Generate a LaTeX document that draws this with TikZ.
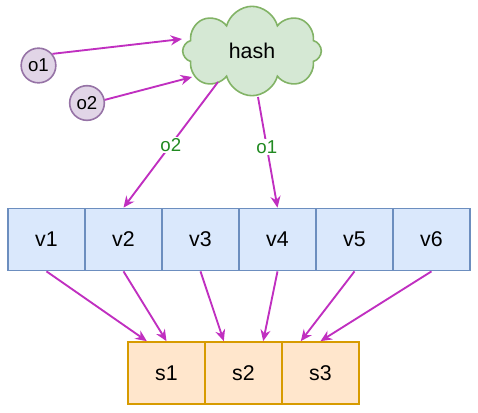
\documentclass[tikz,border=0pt]{standalone}
\usepackage{fontspec}
\setmainfont{Liberation Sans}
\usetikzlibrary{shapes.symbols,arrows.meta,calc}

\definecolor{vfill}{HTML}{DAE8FC}
\definecolor{vline}{HTML}{6C8EBF}
\definecolor{sfill}{HTML}{FFE6CC}
\definecolor{sline}{HTML}{D79B00}
\definecolor{hfill}{HTML}{D5E8D4}
\definecolor{hline}{HTML}{82B366}
\definecolor{ofill}{HTML}{E1D5E7}
\definecolor{oline}{HTML}{9673A6}
\definecolor{arrowc}{HTML}{C02FC0}
\definecolor{labelc}{HTML}{218A21}

\tikzset{
    cell/.style={draw=vline, fill=vfill, line width=1.3pt, minimum width=57.75pt, minimum height=46.5pt, inner sep=0pt, font=\fontsize{16}{19}\selectfont},
    slot/.style={cell, draw=sline, fill=sfill},
    obj/.style={circle, draw=oline, fill=ofill, line width=1.2pt, minimum size=26pt, inner sep=0pt, font=\fontsize{14}{16}\selectfont},
    link/.style={draw=arrowc, line width=1.4pt, -{Stealth[length=8.5pt, width=7.5pt]}},
    tag/.style={fill=white, text=labelc, inner sep=1pt, font=\fontsize{14}{16}\selectfont},
}

\begin{document}
\begin{tikzpicture}[x=0.75pt, y=-0.75pt]
        \useasboundingbox (0, 0) rectangle (478, 412);
        % hash and the two objects
        \node[cloud, cloud puffs=8, aspect=1.6, draw=hline, fill=hfill, line width=1.2pt, minimum width=104pt, minimum height=67pt, font=\fontsize{16}{19}\selectfont] (hash) at (252, 51) {hash};
        \node[obj] (o1) at (38.5, 65.5) {o1};
        \node[obj] (o2) at (87, 103) {o2};
        \coordinate (hin1) at ($(hash.center) + (-70, -12)$);
        \coordinate (hin2) at ($(hash.center) + (-60, 26)$);
        \coordinate (hout2) at ($(hash.center) + (-34, 31)$);
        \coordinate (hout1) at ($(hash.center) + (6, 46)$);
        % virtual nodes
        \node[cell] (v1) at (46.5, 239.5) {v1};
        \node[cell] (v2) at (123.5, 239.5) {v2};
        \node[cell] (v3) at (200.5, 239.5) {v3};
        \node[cell] (v4) at (277.5, 239.5) {v4};
        \node[cell] (v5) at (354.5, 239.5) {v5};
        \node[cell] (v6) at (431.5, 239.5) {v6};
        % servers
        \node[slot] (s1) at (166.5, 373) {s1};
        \node[slot] (s2) at (243.5, 373) {s2};
        \node[slot] (s3) at (320.5, 373) {s3};
        % arrows
        \draw[link] (o1.40) -- (hin1);
        \draw[link] (o2.10) -- (hin2);
        \draw[link] (hout2) -- node[tag] {o2} (v2.north);
        \draw[link] (hout1) -- node[tag, pos=0.45] {o1} (v4.north);
        \draw[link] (v1.south) -- ($(s1.north west)!0.25!(s1.north east)$);
        \draw[link] (v2.south) -- (s1.north);
        \draw[link] (v3.south) -- ($(s2.north west)!0.25!(s2.north east)$);
        \draw[link] (v4.south) -- ($(s2.north west)!0.75!(s2.north east)$);
        \draw[link] (v5.south) -- ($(s3.north west)!0.25!(s3.north east)$);
        \draw[link] (v6.south) -- (s3.north);
    \end{tikzpicture}
\end{document}
